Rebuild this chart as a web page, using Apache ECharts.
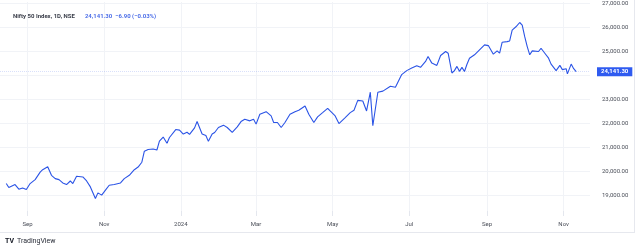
<!DOCTYPE html>
<html>
<head>
<meta charset="utf-8">
<script src="https://cdn.jsdelivr.net/npm/echarts@6/dist/echarts.min.js"></script>
<style>
  html, body { margin: 0; padding: 0; background: #fff; }
  #chart { width: 640px; height: 251px; }
</style>
</head>
<body>
<div id="chart"></div>
<script>
// daily close (one point every few sessions)
const dates = [
  '2023-08-15','2023-08-17','2023-08-22','2023-08-25','2023-08-28','2023-08-31','2023-09-03','2023-09-07',
  '2023-09-11','2023-09-13','2023-09-17','2023-09-20','2023-09-23','2023-09-26','2023-09-29','2023-10-02',
  '2023-10-05','2023-10-07','2023-10-10','2023-10-15','2023-10-18','2023-10-21','2023-10-25','2023-10-27',
  '2023-10-30','2023-11-02','2023-11-05','2023-11-09','2023-11-14','2023-11-17','2023-11-21','2023-11-25',
  '2023-11-28','2023-12-01','2023-12-03','2023-12-06','2023-12-10','2023-12-13','2023-12-15','2023-12-18',
  '2023-12-21','2023-12-23','2023-12-28','2023-12-31','2024-01-03','2024-01-06','2024-01-08','2024-01-12',
  '2024-01-14','2024-01-18','2024-01-21','2024-01-23','2024-01-26','2024-01-28','2024-01-31','2024-02-04',
  '2024-02-07','2024-02-11','2024-02-15','2024-02-18','2024-02-21','2024-02-25','2024-02-28','2024-03-01',
  '2024-03-04','2024-03-09','2024-03-13','2024-03-15','2024-03-18','2024-03-21','2024-03-24','2024-03-28',
  '2024-04-01','2024-04-04','2024-04-09','2024-04-12','2024-04-16','2024-04-19','2024-04-23','2024-04-27',
  '2024-04-29','2024-05-03','2024-05-06','2024-05-11','2024-05-15','2024-05-18','2024-05-21','2024-05-25',
  '2024-05-28','2024-05-31','2024-06-02','2024-06-06','2024-06-10','2024-06-16','2024-06-20','2024-06-25',
  '2024-06-29','2024-07-03','2024-07-07','2024-07-10','2024-07-14','2024-07-16','2024-07-19','2024-07-23',
  '2024-07-26','2024-07-30','2024-08-01','2024-08-04','2024-08-06','2024-08-08','2024-08-10','2024-08-12',
  '2024-08-14','2024-08-16','2024-08-18','2024-08-22','2024-08-26','2024-08-30','2024-09-02','2024-09-06',
  '2024-09-09','2024-09-11','2024-09-13','2024-09-17','2024-09-19','2024-09-21','2024-09-24','2024-09-27',
  '2024-09-29','2024-10-01','2024-10-03','2024-10-05','2024-10-07','2024-10-12','2024-10-14','2024-10-17',
  '2024-10-20','2024-10-22','2024-10-26','2024-10-29','2024-10-31','2024-11-03','2024-11-04','2024-11-07',
  '2024-11-09','2024-11-11'
];
const closes = [
  19482,19318,19441,19247,19300,19235,19482,19647,
  19960,20060,20183,19825,19688,19647,19508,19441,
  19590,19482,19784,19756,19590,19343,18864,19095,
  19000,19206,19412,19441,19508,19688,19825,20060,
  20169,20371,20830,20900,20920,20880,21250,21420,
  21160,21400,21730,21708,21543,21620,21530,21800,
  22064,21543,21480,21239,21543,21610,21817,21915,
  21817,21610,21845,22064,22163,22093,22163,21957,
  22369,22476,22299,22023,22023,21817,22023,22369,
  22476,22534,22711,22369,22023,22258,22435,22616,
  22505,22299,21982,22230,22435,22534,22946,22918,
  22505,23285,21890,23285,23330,23536,23495,24019,
  24184,24293,24390,24320,24567,24773,24497,24402,
  24814,24979,24909,24085,24184,24361,24155,24320,
  24150,24450,24700,24843,25049,25256,25227,24868,
  25008,24909,25363,25392,25421,25874,26010,26188,
  26080,25598,25186,24843,25008,24979,25116,24909,
  24703,24456,24184,24402,24225,24266,24047,24456,
  24266,24141.30
];
const monthTicks = ['2023-09-01','2023-11-01','2024-01-01','2024-03-01','2024-05-01','2024-07-01','2024-09-01','2024-11-01'];
const priceTicks = [19000, 20000, 21000, 22000, 23000, 24000, 25000, 26000, 27000];
const symbolName = 'Nifty 50 Index, 1D, NSE';
const lastClose = 24141.30;
const change = -6.90;
const changePct = -0.03;

const monthNames = ['Jan','Feb','Mar','Apr','May','Jun','Jul','Aug','Sep','Oct','Nov','Dec'];
const toTime = s => +echarts.time.parse(s);
const fmt = v => v.toLocaleString('en-US', { minimumFractionDigits: 2, maximumFractionDigits: 2 });
const minus = v => (v < 0 ? '\u2212' : '+') + fmt(Math.abs(v));

const tickTimes = monthTicks.map(toTime);
const seriesData = dates.map((d, i) => [toTime(d), closes[i]]);
// the price scale hides the level that collides with the last-price badge
const labelTicks = priceTicks.filter(v => Math.abs(v - lastClose) > 500);

const blue = '#2b54e6';
const font = 'Roboto';

const chart = echarts.init(document.getElementById('chart'));

const option = {
  animation: false,
  backgroundColor: '#fff',
  title: {
    left: 8,
    top: 2,
    text: '{a|' + symbolName + '}  {b|' + fmt(lastClose) + '  ' + minus(change) + ' (' + minus(changePct) + '%)}',
    textStyle: {
      rich: {
        a: { fontSize: 6, color: '#3a3e4a', fontFamily: font },
        b: { fontSize: 6, color: '#4d6fe8', fontFamily: font }
      }
    }
  },
  grid: { left: 0, right: 50, top: 0, bottom: 40 },
  xAxis: {
    // timestamps on a plain value scale so the month ticks can be given explicitly
    type: 'value',
    min: toTime('2023-08-10'),
    max: toTime('2024-11-22'),
    axisLine: { show: false },
    axisTick: {
      show: true,
      length: 5,
      customValues: tickTimes,
      lineStyle: { color: '#e4e7ee' }
    },
    axisLabel: {
      customValues: tickTimes,
      fontSize: 6,
      color: '#4a4e58',
      fontFamily: font,
      margin: 10,
      formatter: v => {
        const d = new Date(v);
        return d.getMonth() === 0 ? String(d.getFullYear()) : monthNames[d.getMonth()];
      }
    },
    splitLine: { show: true, lineStyle: { color: '#f1f3f7', width: 1 } }
  },
  yAxis: {
    type: 'value',
    position: 'right',
    min: 18340,
    max: 27041,
    axisLine: { show: false },
    axisTick: { show: false, customValues: priceTicks },
    axisLabel: {
      customValues: labelTicks,
      fontSize: 6,
      color: '#4a4e58',
      fontFamily: font,
      margin: 12,
      formatter: v => fmt(v)
    },
    splitLine: { show: true, lineStyle: { color: '#f1f3f7', width: 1 } }
  },
  series: [{
    type: 'line',
    data: seriesData,
    showSymbol: false,
    lineStyle: { color: blue, width: 1.1 },
    markLine: {
      silent: true,
      symbol: 'none',
      lineStyle: { color: 'rgba(43,84,230,0.18)', type: 'dotted', width: 1 },
      label: {
        position: 'end',
        distance: 7,
        formatter: fmt(lastClose),
        color: '#ffffff',
        backgroundColor: '#2f5bf0',
        fontSize: 6,
        fontWeight: 'bold',
        fontFamily: font,
        padding: [1, 4],
        lineHeight: 7
      },
      data: [{ yAxis: lastClose }]
    }
  }],
  graphic: [
    { type: 'line', shape: { x1: 0, y1: 232.5, x2: 634, y2: 232.5 }, style: { stroke: '#e6e8ee', lineWidth: 1 } },
    { type: 'line', shape: { x1: 634.5, y1: 0, x2: 634.5, y2: 233 }, style: { stroke: '#e6e8ee', lineWidth: 1 } },
    { type: 'text', left: 5, top: 238, style: { text: 'TV', fontSize: 7, fontWeight: 'bold', fill: '#131722', fontFamily: font } },
    { type: 'text', left: 17, top: 238, style: { text: 'TradingView', fontSize: 7, fill: '#2a2e39', fontFamily: font } }
  ]
};

chart.setOption(option);
</script>
</body>
</html>
